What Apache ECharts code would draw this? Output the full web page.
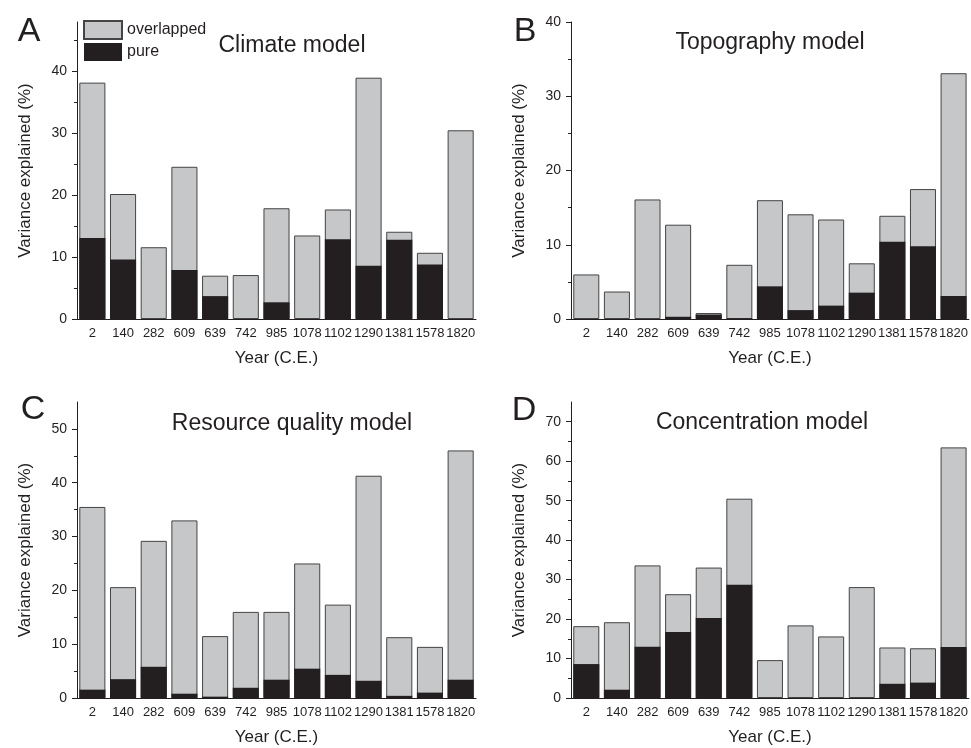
<!DOCTYPE html>
<html>
<head>
<meta charset="utf-8">
<script src="https://cdn.jsdelivr.net/npm/echarts@6/dist/echarts.min.js"></script>
<style>
  html, body { margin: 0; padding: 0; background: #fff; }
  #chart { width: 971px; height: 748px; }
</style>
</head>
<body>
<div id="chart"></div>
<script>
// years shared by all four panels
const years = ['2', '140', '282', '609', '639', '742', '985', '1078', '1102', '1290', '1381', '1578', '1820']

// total bar height (overlapped + pure) and pure part, per model
const climateTotal = [38.2, 20.2, 11.6, 24.6, 7.0, 7.1, 17.9, 13.5, 17.7, 39.0, 14.1, 10.7, 30.5]
const climatePure = [13.1, 9.6, 0, 7.9, 3.7, 0, 2.7, 0, 12.9, 8.6, 12.8, 8.8, 0]

const topoTotal = [6.0, 3.7, 16.1, 12.7, 0.8, 7.3, 16.0, 14.1, 13.4, 7.5, 13.9, 17.5, 33.1]
const topoPure = [0, 0, 0, 0.3, 0.6, 0.1, 4.4, 1.2, 1.8, 3.55, 10.4, 9.8, 3.1]

const resourceTotal = [35.5, 20.6, 29.2, 33.0, 11.5, 16.0, 16.0, 25.0, 17.35, 41.3, 11.3, 9.5, 46.0]
const resourcePure = [1.55, 3.5, 5.8, 0.8, 0.25, 1.9, 3.4, 5.45, 4.3, 3.2, 0.4, 1.0, 3.4]

const concTotal = [18.2, 19.2, 33.6, 26.3, 33.05, 50.5, 9.6, 18.4, 15.6, 28.1, 12.8, 12.6, 63.5]
const concPure = [8.6, 2.1, 13.0, 16.7, 20.3, 28.7, 0, 0, 0, 0, 3.6, 3.9, 12.9]

// y axis: max, labelled ticks, minor ticks
const yMax = [48, 40, 55, 75]
const yMajor = [
  [0, 10, 20, 30, 40],
  [0, 10, 20, 30, 40],
  [0, 10, 20, 30, 40, 50],
  [0, 10, 20, 30, 40, 50, 60, 70]
]
const yMinor = [
  [5, 15, 25, 35, 45],
  [5, 15, 25, 35],
  [5, 15, 25, 35, 45],
  [5, 15, 25, 35, 45, 55, 65]
]

const panels = [
  { letter: 'A', title: 'Climate model', total: climateTotal, pure: climatePure },
  { letter: 'B', title: 'Topography model', total: topoTotal, pure: topoPure },
  { letter: 'C', title: 'Resource quality model', total: resourceTotal, pure: resourcePure },
  { letter: 'D', title: 'Concentration model', total: concTotal, pure: concPure }
]

const FONT = '"Liberation Sans", Arial, sans-serif'
const INK = '#231f20'
const GREY = '#c6c7c9'

const grids = [
  { left: 77, top: 22, width: 399, height: 297 },
  { left: 571, top: 22, width: 399, height: 297 },
  { left: 77, top: 402, width: 399, height: 296 },
  { left: 571, top: 402, width: 399, height: 296 }
]

const titlePos = [
  { letter: [24, 10], title: [287, 29] },
  { letter: [520, 10], title: [765, 26] },
  { letter: [28, 388], title: [287, 407] },
  { letter: [519, 389], title: [757, 406] }
]

const xAxes = []
const yAxes = []
const series = []
const titles = []

panels.forEach((p, i) => {
  // main category axis, ticks under the labels
  xAxes.push({
    type: 'category',
    gridIndex: i,
    data: years,
    name: 'Year (C.E.)',
    nameLocation: 'middle',
    nameGap: 31,
    nameTextStyle: { fontFamily: FONT, fontSize: 17, color: INK },
    axisLine: { lineStyle: { color: INK, width: 1 } },
    axisTick: { alignWithLabel: true, length: 5, lineStyle: { color: INK } },
    axisLabel: { interval: 0, margin: 8, fontFamily: FONT, fontSize: 13, color: INK }
  })
  // short ticks on category boundaries
  xAxes.push({
    type: 'category',
    gridIndex: i,
    position: 'bottom',
    data: years,
    axisLine: { show: false },
    axisTick: { length: 3, lineStyle: { color: INK } },
    axisLabel: { show: false },
    splitLine: { show: false }
  })

  yAxes.push({
    type: 'value',
    gridIndex: i,
    min: 0,
    max: yMax[i],
    name: 'Variance explained (%)',
    nameLocation: 'middle',
    nameGap: 43,
    nameTextStyle: { fontFamily: FONT, fontSize: 17, color: INK },
    axisLine: { show: true, lineStyle: { color: INK, width: 1 } },
    axisTick: { show: true, length: 5, customValues: yMajor[i], lineStyle: { color: INK } },
    axisLabel: { margin: 10, customValues: yMajor[i], fontFamily: FONT, fontSize: 14, color: INK },
    splitLine: { show: false }
  })
  // minor ticks
  yAxes.push({
    type: 'value',
    gridIndex: i,
    position: 'left',
    min: 0,
    max: yMax[i],
    axisLine: { show: false },
    axisTick: { show: true, length: 3, customValues: yMinor[i], lineStyle: { color: INK } },
    axisLabel: { show: false },
    splitLine: { show: false }
  })

  series.push({
    name: 'overlapped',
    type: 'bar',
    xAxisIndex: i * 2,
    yAxisIndex: i * 2,
    data: p.total,
    barGap: '-100%',
    barCategoryGap: '15%',
    itemStyle: { color: GREY, borderColor: '#444', borderWidth: 1 },
    emphasis: { disabled: true },
    animation: false
  })
  series.push({
    name: 'pure',
    type: 'bar',
    xAxisIndex: i * 2,
    yAxisIndex: i * 2,
    data: p.pure,
    barGap: '-100%',
    barCategoryGap: '15%',
    itemStyle: { color: INK, borderColor: INK, borderWidth: 0 },
    emphasis: { disabled: true },
    animation: false
  })

  titles.push({
    text: p.letter,
    left: titlePos[i].letter[0],
    top: titlePos[i].letter[1],
    textAlign: 'center',
    textStyle: { fontFamily: FONT, fontSize: 34, fontWeight: 'normal', color: INK }
  })
  titles.push({
    text: p.title,
    left: titlePos[i].title[0],
    top: titlePos[i].title[1],
    textAlign: 'center',
    textStyle: { fontFamily: FONT, fontSize: 23, fontWeight: 'normal', color: INK }
  })
})

const chart = echarts.init(document.getElementById('chart'), null, { renderer: 'canvas' })
chart.setOption({
  animation: false,
  backgroundColor: '#fff',
  title: titles,
  grid: grids,
  xAxis: xAxes,
  yAxis: yAxes,
  legend: {
    data: ['overlapped', 'pure'],
    orient: 'vertical',
    left: 83,
    top: 20,
    itemWidth: 38,
    itemHeight: 18,
    itemGap: 3,
    padding: 0,
    icon: 'rect',
    selectedMode: false,
    textStyle: { fontFamily: FONT, fontSize: 16, color: INK, padding: [0, 0, 0, 0] }
  },
  series: series
})
</script>
</body>
</html>
